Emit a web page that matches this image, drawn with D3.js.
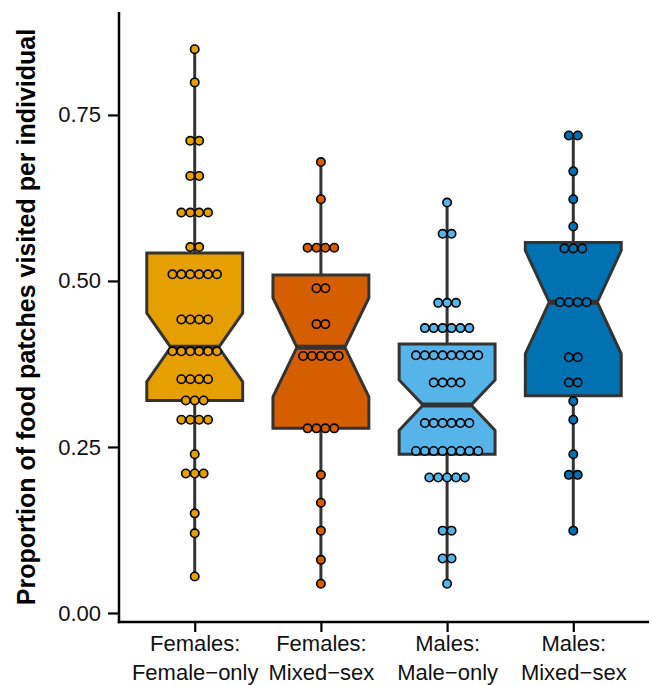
<!DOCTYPE html>
<html>
<head>
<meta charset="utf-8">
<script src="https://cdn.jsdelivr.net/npm/d3@7"></script>
<style>
  html, body { margin: 0; padding: 0; background: #fff; }
  svg { display: block; font-family: "Liberation Sans", Arial, Helvetica, sans-serif; }
</style>
</head>
<body>
<svg id="chart" width="652" height="685"></svg>
<script>
// Groups shown along the x axis (two-line labels)
const categories = ["FF", "FM", "MM", "MF"];
const categoryLines = [
  ["Females:", "Female\u2212only"],
  ["Females:", "Mixed\u2212sex"],
  ["Males:", "Male\u2212only"],
  ["Males:", "Mixed\u2212sex"]
];
const fills = ["#E69F00", "#D55E00", "#56B4E9", "#0072B2"];

// Individual observations (proportion of patches visited)
const femaleOnly = [
  0.849, 0.799, 0.711, 0.711, 0.658, 0.658,
  0.603, 0.603, 0.603, 0.603, 0.551, 0.551,
  0.510, 0.510, 0.510, 0.510, 0.510, 0.510,
  0.442, 0.442, 0.442, 0.442,
  0.394, 0.394, 0.394, 0.394, 0.394, 0.394,
  0.352, 0.352, 0.352, 0.352,
  0.320, 0.320, 0.320,
  0.291, 0.291, 0.291, 0.291,
  0.239, 0.210, 0.210, 0.210, 0.150, 0.120, 0.055
];
const femaleMixed = [
  0.679, 0.623, 0.550, 0.550, 0.550, 0.550,
  0.489, 0.489, 0.435, 0.435,
  0.387, 0.387, 0.387, 0.387, 0.387,
  0.278, 0.278, 0.278, 0.278,
  0.208, 0.166, 0.124, 0.080, 0.044
];
const maleOnly = [
  0.618, 0.571, 0.571, 0.467, 0.467, 0.467,
  0.429, 0.429, 0.429, 0.429, 0.429, 0.429,
  0.388, 0.388, 0.388, 0.388, 0.388, 0.388, 0.388, 0.388,
  0.347, 0.347, 0.347, 0.347,
  0.286, 0.286, 0.286, 0.286, 0.286, 0.286,
  0.244, 0.244, 0.244, 0.244, 0.244, 0.244, 0.244, 0.244,
  0.204, 0.204, 0.204, 0.204, 0.204,
  0.124, 0.124, 0.082, 0.082, 0.044
];
const maleMixed = [
  0.719, 0.719, 0.665, 0.623, 0.582,
  0.549, 0.549, 0.549,
  0.468, 0.468, 0.468, 0.468,
  0.385, 0.385, 0.347, 0.347,
  0.319, 0.291, 0.239, 0.208, 0.208, 0.124
];
const observations = [femaleOnly, femaleMixed, maleOnly, maleMixed];

// Box summaries per group
const q1Values     = [0.320, 0.278, 0.239, 0.327];
const medianValues = [0.400, 0.400, 0.313, 0.468];
const q3Values     = [0.542, 0.509, 0.405, 0.558];

const yTicks = [0, 0.25, 0.5, 0.75];
const yTitle = "Proportion of food patches visited per individual";

const svg = d3.select("#chart");
const plotLeft = 119, plotRight = 649, plotTop = 12, plotBottom = 622;

const x = d3.scalePoint().domain(categories).range([plotLeft, plotRight]).padding(0.6);
const y = d3.scaleLinear().domain([-0.0136, 0.905]).range([plotBottom, plotTop]);
const step = x.step();
const boxHalf = step * 0.38;
const lineColor = "#333333";

const groups = categories.map((c, i) => {
  const vals = observations[i];
  const n = vals.length;
  const q1 = q1Values[i], med = medianValues[i], q3 = q3Values[i];
  const iqr = q3 - q1;
  const notch = 1.58 * iqr / Math.sqrt(n);
  return {
    key: c, i, vals, q1, med, q3,
    lo: d3.min(vals), hi: d3.max(vals),
    nLo: med - notch, nHi: med + notch
  };
});

const plot = svg.append("g");

// whiskers
plot.selectAll("line.whisker")
  .data(groups)
  .join("line")
  .attr("class", "whisker")
  .attr("x1", d => x(d.key)).attr("x2", d => x(d.key))
  .attr("y1", d => y(d.lo)).attr("y2", d => y(d.hi))
  .attr("stroke", lineColor).attr("stroke-width", 3);

// notched boxes
plot.selectAll("path.box")
  .data(groups)
  .join("path")
  .attr("class", "box")
  .attr("d", d => {
    const cx = x(d.key);
    const l = cx - boxHalf, r = cx + boxHalf;
    const li = cx - boxHalf / 2, ri = cx + boxHalf / 2;
    const pts = [
      [l, y(d.q3)], [r, y(d.q3)], [r, y(d.nHi)], [ri, y(d.med)], [r, y(d.nLo)],
      [r, y(d.q1)], [l, y(d.q1)], [l, y(d.nLo)], [li, y(d.med)], [l, y(d.nHi)]
    ];
    return d3.line()(pts) + "Z";
  })
  .attr("fill", d => fills[d.i])
  .attr("stroke", lineColor)
  .attr("stroke-width", 3)
  .attr("stroke-linejoin", "miter");

// median segments
plot.selectAll("line.median")
  .data(groups)
  .join("line")
  .attr("class", "median")
  .attr("x1", d => x(d.key) - boxHalf / 2).attr("x2", d => x(d.key) + boxHalf / 2)
  .attr("y1", d => y(d.med)).attr("y2", d => y(d.med))
  .attr("stroke", lineColor).attr("stroke-width", 5);

// centred dot stacks
const dotSpacing = 8.9;
const dotData = [];
groups.forEach(g => {
  const bins = d3.rollups(g.vals, v => v.length, v => v);
  bins.forEach(([v, k]) => {
    for (let j = 0; j < k; j++) {
      dotData.push({ key: g.key, i: g.i, v, off: (j - (k - 1) / 2) * dotSpacing });
    }
  });
});
plot.selectAll("circle.dot")
  .data(dotData)
  .join("circle")
  .attr("class", "dot")
  .attr("cx", d => x(d.key) + d.off)
  .attr("cy", d => y(d.v))
  .attr("r", 4.2)
  .attr("fill", d => fills[d.i])
  .attr("stroke", "#000")
  .attr("stroke-width", 1.6);

// y axis
const yAxis = svg.append("g")
  .attr("transform", `translate(${plotLeft},0)`)
  .call(d3.axisLeft(y).tickValues(yTicks).tickFormat(d3.format(".2f")).tickSize(11).tickSizeOuter(0).tickPadding(7));
yAxis.select(".domain").attr("stroke", "#000").attr("stroke-width", 2.5).attr("d", `M0,${plotTop}V${plotBottom + 1.25}`);
yAxis.selectAll(".tick line").attr("stroke", "#000").attr("stroke-width", 2.2);
yAxis.selectAll(".tick text").attr("fill", "#111").style("font-size", "22px");

// x axis
const xAxis = svg.append("g")
  .attr("transform", `translate(0,${plotBottom})`)
  .call(d3.axisBottom(x).tickSize(10).tickSizeOuter(0).tickFormat(""));
xAxis.select(".domain").attr("stroke", "#000").attr("stroke-width", 2.5).attr("d", `M${plotLeft - 1.25},0H${plotRight}`);
xAxis.selectAll(".tick line").attr("stroke", "#000").attr("stroke-width", 2.2);
xAxis.selectAll(".tick").each(function (d, i) {
  const t = d3.select(this).append("text")
    .attr("fill", "#111")
    .attr("text-anchor", "middle")
    .style("font-size", "22px");
  categoryLines[i].forEach((line, k) => {
    t.append("tspan").attr("x", 0).attr("y", 29 + k * 29).text(line);
  });
});

// y axis title
svg.append("text")
  .attr("transform", `translate(35,${(plotTop + plotBottom) / 2}) rotate(-90)`)
  .attr("text-anchor", "middle")
  .attr("fill", "#000")
  .style("font-size", "25px")
  .style("font-weight", "bold")
  .text(yTitle);
</script>
</body>
</html>
